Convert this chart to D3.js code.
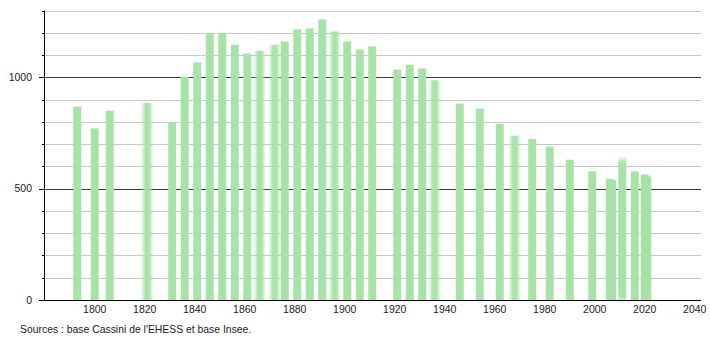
<!DOCTYPE html>
<html>
<head>
<meta charset="utf-8">
<script src="https://cdn.jsdelivr.net/npm/d3@7"></script>
<style>
  body { margin: 0; background: #fff; }
  text { font-family: "Liberation Sans", Arial, sans-serif; }
</style>
</head>
<body>
<div id="plotContainer"></div>
<script>
// census years and population
const years = [1793, 1800, 1806, 1821, 1831, 1836, 1841, 1846, 1851, 1856,
  1861, 1866, 1872, 1876, 1881, 1886, 1891, 1896, 1901, 1906, 1911,
  1921, 1926, 1931, 1936, 1946, 1954, 1962, 1968, 1975, 1982, 1990,
  1999, 2006, 2007, 2011, 2016, 2020, 2021];
const population = [868, 771, 850, 885, 800, 1002, 1067, 1194, 1200, 1146,
  1107, 1119, 1146, 1161, 1215, 1220, 1260, 1206, 1161, 1125, 1139,
  1035, 1056, 1040, 987, 882, 860, 791, 738, 723, 689, 630,
  578, 544, 538, 632, 578, 563, 555];
const xTicks = [1800, 1820, 1840, 1860, 1880, 1900, 1920, 1940, 1960, 1980, 2000, 2020, 2040];
const yMajor = [0, 500, 1000];
const yMinor = [100, 200, 300, 400, 600, 700, 800, 900, 1100, 1200, 1300];
const source = "Sources : base Cassini de l'EHESS et base Insee.";

const data = years.map((y, i) => ({year: y, value: population[i]}));

// bars that look smeared in the original image
const fuzzy = [1821, 1866, 1872, 1896, 1936, 1968];

const width = 710, height = 340;

const svg = d3.select("#plotContainer")
  .append("svg")
    .attr("width", width)
    .attr("height", height);

const defs = svg.append("defs");
defs.append("filter").attr("id", "smearX")
    .attr("x", "-50%").attr("width", "200%")
  .append("feGaussianBlur").attr("stdDeviation", "1.4 0");
defs.append("filter").attr("id", "smearY")
    .attr("y", "-10%").attr("height", "120%")
  .append("feGaussianBlur").attr("stdDeviation", "0.6 2");

const x = d3.scaleLinear()
  .domain([1779.7, 2042.5])
  .range([44, 701]);

const y = d3.scaleLinear()
  .domain([0, 1300])
  .range([300, 10.5]);

// gridlines
svg.append("g")
  .selectAll("line")
  .data(yMinor)
  .join("line")
    .attr("x1", x.range()[0]).attr("x2", x.range()[1])
    .attr("y1", d => Math.round(y(d)) + 0.5).attr("y2", d => Math.round(y(d)) + 0.5)
    .attr("stroke", "#c8c8c8")
    .attr("stroke-width", 1);

svg.append("g")
  .selectAll("line")
  .data(yMajor.filter(d => d > 0))
  .join("line")
    .attr("x1", x.range()[0]).attr("x2", x.range()[1])
    .attr("y1", d => Math.round(y(d)) + 0.5).attr("y2", d => Math.round(y(d)) + 0.5)
    .attr("stroke", "#3a3a3a")
    .attr("stroke-width", 1);

// bars
const barW = 8;
svg.append("g")
  .selectAll("rect")
  .data(data)
  .join("rect")
    .attr("x", d => x(d.year) - barW / 2)
    .attr("y", d => y(d.value))
    .attr("width", barW)
    .attr("height", d => y(0) - y(d.value))
    .attr("fill", "#a9e2a9")
    .attr("filter", d => fuzzy.includes(d.year) ? "url(#smearX)" : (d.year === 2011 ? "url(#smearY)" : null));

// y axis with minor + major ticks
const yAxis = svg.append("g")
  .attr("transform", `translate(${x.range()[0]},0)`);
yAxis.append("line")
  .attr("x1", 0.5).attr("x2", 0.5)
  .attr("y1", y(1300)).attr("y2", y(0))
  .attr("stroke", "#000");
yAxis.selectAll(".minor")
  .data(yMinor)
  .join("line")
    .attr("class", "minor")
    .attr("x1", -2).attr("x2", 0)
    .attr("y1", d => Math.round(y(d)) + 0.5).attr("y2", d => Math.round(y(d)) + 0.5)
    .attr("stroke", "#000");
yAxis.selectAll(".major")
  .data(yMajor)
  .join("line")
    .attr("class", "major")
    .attr("x1", -5).attr("x2", 0)
    .attr("y1", d => Math.round(y(d)) + 0.5).attr("y2", d => Math.round(y(d)) + 0.5)
    .attr("stroke", "#000");
yAxis.selectAll("text")
  .data(yMajor)
  .join("text")
    .attr("x", -12)
    .attr("y", d => y(d))
    .attr("dy", "0.36em")
    .attr("text-anchor", "end")
    .attr("font-size", "10.5px")
    .attr("fill", "#222")
    .text(d => d);

// x axis
svg.append("line")
  .attr("x1", x.range()[0] - 5).attr("x2", x.range()[1])
  .attr("y1", y(0) + 0.5).attr("y2", y(0) + 0.5)
  .attr("stroke", "#000");
svg.append("g")
  .selectAll("text")
  .data(xTicks)
  .join("text")
    .attr("x", d => x(d))
    .attr("y", 312.5)
    .attr("text-anchor", "middle")
    .attr("font-size", "10.5px")
    .attr("fill", "#222")
    .text(d => d);

svg.append("text")
  .attr("x", 20)
  .attr("y", 333)
  .attr("font-size", "10.4px")
  .attr("fill", "#222")
  .text(source);
</script>
</body>
</html>
